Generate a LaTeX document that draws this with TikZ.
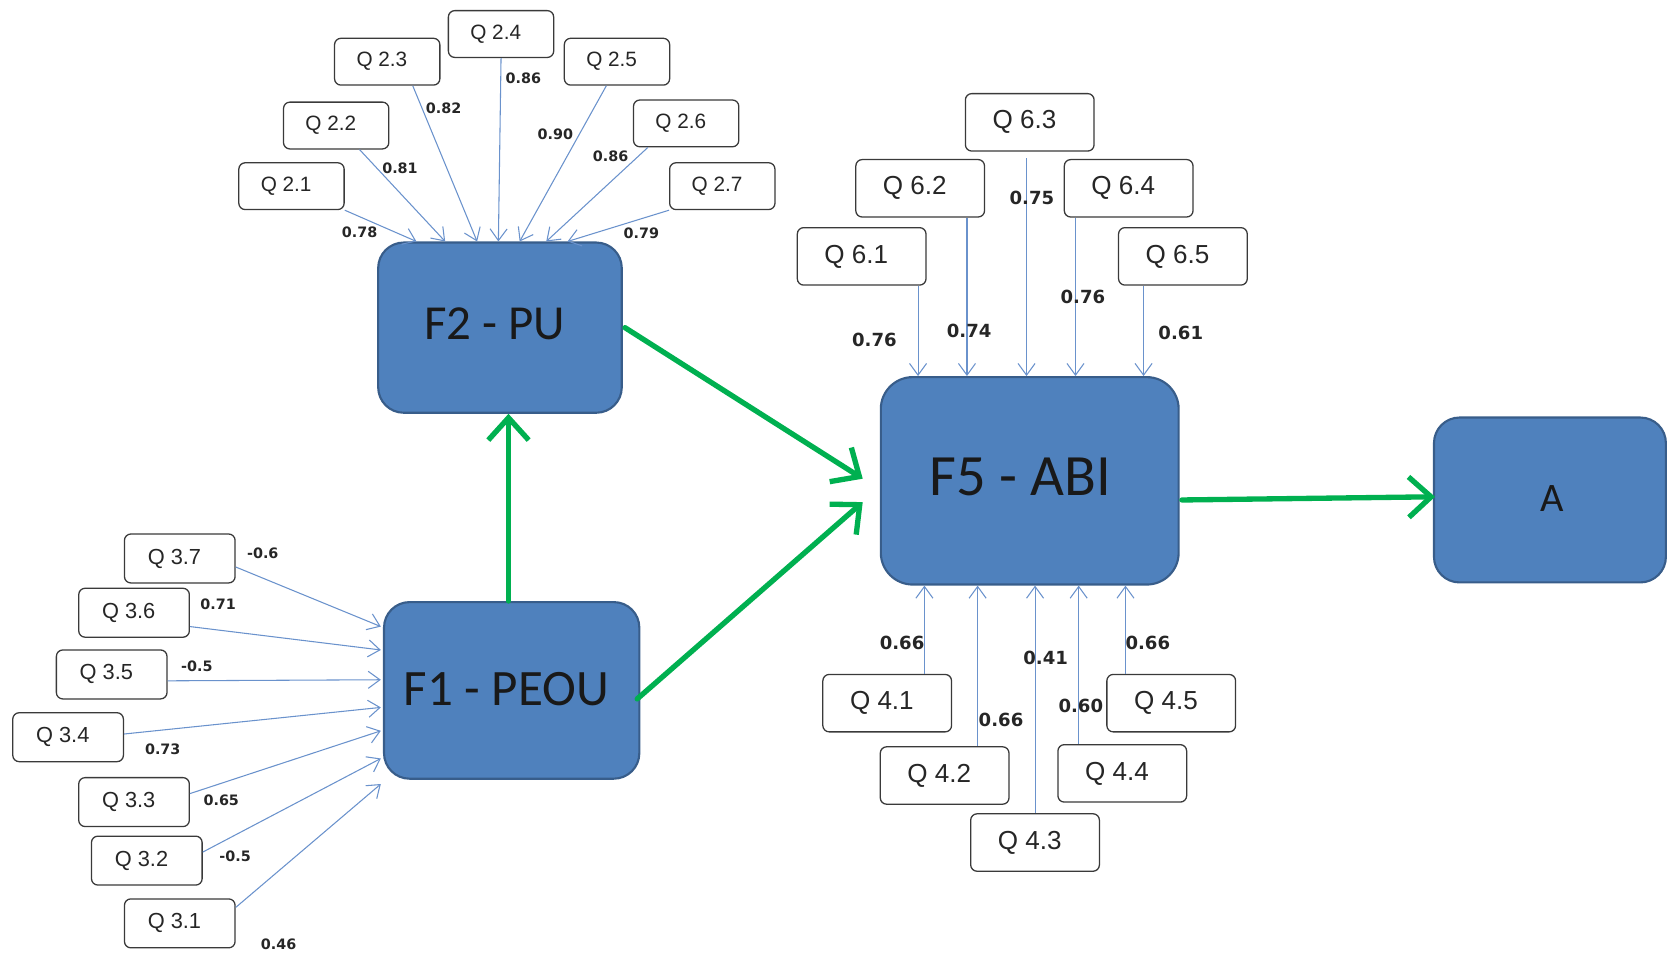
\documentclass[tikz,border=0pt]{standalone}
\usepackage{fontspec}
\setmainfont{Liberation Sans}
\newfontfamily\calfont{Carlito}
\newfontfamily\numfont{DejaVu Sans}
\usetikzlibrary{arrows.meta,calc}
\definecolor{facfill}{HTML}{4F81BD}
\definecolor{facline}{HTML}{385D8A}
\definecolor{loadline}{HTML}{6A92CC}
\definecolor{pathgreen}{HTML}{00B050}
\definecolor{qborder}{HTML}{3A3A3A}
\begin{document}
\begin{tikzpicture}[x=1pt,y=-1pt,
  item/.style={draw=qborder, line width=1.2pt, fill=white, rounded corners=6pt,
    minimum width=99pt, minimum height=44pt, inner sep=0pt,
    font=\fontsize{19.5}{19.5}\selectfont, text=black!85,
    execute at end node={\hspace*{10pt}}},
  itemM/.style={item, minimum width=104pt, minimum height=46pt, font=\fontsize{20.5}{20.5}\selectfont},
  itemL/.style={item, minimum width=121pt, minimum height=54pt, font=\fontsize{24.5}{24.5}\selectfont},
  factor/.style={draw=facline, line width=2pt, fill=facfill, rounded corners=24pt,
    inner sep=0pt, text=black!90, font=\calfont\fontsize{46}{46}\selectfont},
  load/.style={draw=loadline, line width=1pt, -{Straight Barb[length=11pt,width=16pt]}},
  causal/.style={draw=pathgreen, line width=5pt, line cap=round,
    -{Straight Barb[length=21pt,width=38pt]}},
  lab/.style={font=\numfont\bfseries\fontsize{13.5}{13.5}\selectfont, text=black!85, inner sep=0pt},
  labL/.style={lab, font=\numfont\bfseries\fontsize{17}{17}\selectfont},
]
\useasboundingbox (0,0) rectangle (1568,899);

% latent factors
\node[factor, minimum width=229pt, minimum height=160pt] (f2) at (470,308)
  {\raisebox{7pt}{F2 - PU}\hspace*{10pt}};
\node[factor, minimum width=240pt, minimum height=166pt,
  font=\calfont\fontsize{48}{48}\selectfont] (f1) at (481,649)
  {\raisebox{2pt}{F1 - PEOU}\hspace*{10pt}};
\node[factor, minimum width=280pt, minimum height=195pt, rounded corners=30pt,
  font=\calfont\fontsize{55}{55}\selectfont] (f5) at (968,452)
  {\raisebox{7pt}{F5 - ABI}\hspace*{18pt}};
\node[factor, minimum width=218pt, minimum height=155pt,
  font=\calfont\fontsize{38}{38}\selectfont] (a) at (1457,470)
  {\raisebox{3pt}{A}\hspace*{-4pt}};

% items of F2
\node[item] (q21) at (274,175) {Q 2.1};
\node[item] (q22) at (316,118) {Q 2.2};
\node[item] (q23) at (364,58) {Q 2.3};
\node[item] (q24) at (471,32) {Q 2.4};
\node[item] (q25) at (580,58) {Q 2.5};
\node[item] (q26) at (645,116) {Q 2.6};
\node[item] (q27) at (679,175) {Q 2.7};

\draw[load] (q21.south east) -- ($(f2.north west)+(37,0)$);
\draw[load] ($(q22.south)+(22,0)$) -- ($(f2.north west)+(64,0)$);
\draw[load] ($(q23.south)+(24,0)$) -- ($(f2.north west)+(94,0)$);
\draw[load] (q24.south) -- ($(f2.north west)+(114,0)$);
\draw[load] ($(q25.south)+(-10,0)$) -- ($(f2.north west)+(134,0)$);
\draw[load] ($(q26.south)+(-36,0)$) -- ($(f2.north west)+(159,0)$);
\draw[load] (q27.south west) -- ($(f2.north west)+(179,0)$);

\node[lab] (l21) at (338,218) {0.78};
\node[lab] (l22) at (376,158) {0.81};
\node[lab] (l23) at (417,102) {0.82};
\node[lab] (l24) at (492,74) {0.86};
\node[lab] (l25) at (522,126) {0.90};
\node[lab] (l26) at (574,147) {0.86};
\node[lab] (l27) at (603,219) {0.79};

% items of F6 feeding F5
\node[itemL] (q61) at (810,241) {Q 6.1};
\node[itemL] (q62) at (865,177) {Q 6.2};
\node[itemL] (q63) at (968,115) {Q 6.3};
\node[itemL] (q64) at (1061,177) {Q 6.4};
\node[itemL] (q65) at (1112,241) {Q 6.5};

\draw[load] ($(q61.south)+(53,0)$) coordinate (s61) -- (s61 |- f5.north);
\draw[load] ($(q62.south)+(44,0)$) coordinate (s62) -- (s62 |- f5.north);
\draw[load] ($(q63.south)+(-3,6)$) coordinate (s63) -- (s63 |- f5.north);
\draw[load] ($(q64.south)+(-50,0)$) coordinate (s64) -- (s64 |- f5.north);
\draw[load] ($(q65.south)+(-37,0)$) coordinate (s65) -- (s65 |- f5.north);

\node[labL] (l61) at (822,320) {0.76};
\node[labL] (l62) at (911,311) {0.74};
\node[labL] (l63) at (970,186) {0.75};
\node[labL] (l64) at (1018,279) {0.76};
\node[labL] (l65) at (1110,313) {0.61};

% items of F4 feeding F5
\node[itemL] (q41) at (834,661) {Q 4.1};
\node[itemL] (q42) at (888,729) {Q 4.2};
\node[itemL] (q43) at (973,792) {Q 4.3};
\node[itemL] (q44) at (1055,727) {Q 4.4};
\node[itemL] (q45) at (1101,661) {Q 4.5};

\draw[load] ($(q41.north)+(35,0)$) coordinate (s41) -- (s41 |- f5.south);
\draw[load] ($(q42.north)+(31,0)$) coordinate (s42) -- (s42 |- f5.south);
\draw[load] (q43.north) coordinate (s43) -- (s43 |- f5.south);
\draw[load] ($(q44.north)+(-41,0)$) coordinate (s44) -- (s44 |- f5.south);
\draw[load] ($(q45.north)+(-43,0)$) coordinate (s45) -- (s45 |- f5.south);

\node[labL] (l41) at (848,604) {0.66};
\node[labL] (l42) at (941,677) {0.66};
\node[labL] (l43) at (983,618) {0.41};
\node[labL] (l44) at (1016,664) {0.60};
\node[labL] (l45) at (1079,604) {0.66};

% items of F1
\node[itemM] (q37) at (169,525) {Q 3.7};
\node[itemM] (q36) at (126,576) {Q 3.6};
\node[itemM] (q35) at (105,634) {Q 3.5};
\node[itemM] (q34) at (64,693) {Q 3.4};
\node[itemM] (q33) at (126,754) {Q 3.3};
\node[itemM] (q32) at (138,809) {Q 3.2};
\node[itemM] (q31) at (169,868) {Q 3.1};

\draw[load] ($(q37.east)+(0,8)$) -- ($(f1.north west)+(-2,24)$);
\draw[load] ($(q36.east)+(0,13)$) -- ($(f1.north west)+(-2,46)$);
\draw[load] ($(q35.east)+(0,6)$) -- ($(f1.north west)+(-2,74)$);
\draw[load] ($(q34.east)+(0,-3)$) -- ($(f1.north west)+(-2,100)$);
\draw[load] ($(q33.east)+(0,-8)$) -- ($(f1.north west)+(-2,122)$);
\draw[load] ($(q32.east)+(0,-8)$) -- ($(f1.north west)+(-2,148)$);
\draw[load] ($(q31.east)+(0,-15)$) -- ($(f1.north west)+(-2,172)$);

\node[lab] (l37) at (247,520) {-0.6};
\node[lab] (l36) at (205,568) {0.71};
\node[lab] (l35) at (185,626) {-0.5};
\node[lab] (l34) at (153,704) {0.73};
\node[lab] (l33) at (208,752) {0.65};
\node[lab] (l32) at (221,805) {-0.5};
\node[lab] (l31) at (262,888) {0.46};

% structural paths
\draw[causal] ($(f1.north)+(-3,0)$) coordinate (g1) -- (g1 |- f2.south);
\draw[causal] ($(f2.east)+(2,0)$) -- ($(f5.west)+(-16,-2)$);
\draw[causal] ($(f1.east)+(-3,8)$) -- ($(f5.west)+(-16,20)$);
\draw[causal] ($(f5.east)+(2,18)$) -- ($(a.west)+(2,-3)$);
\end{tikzpicture}
\end{document}
